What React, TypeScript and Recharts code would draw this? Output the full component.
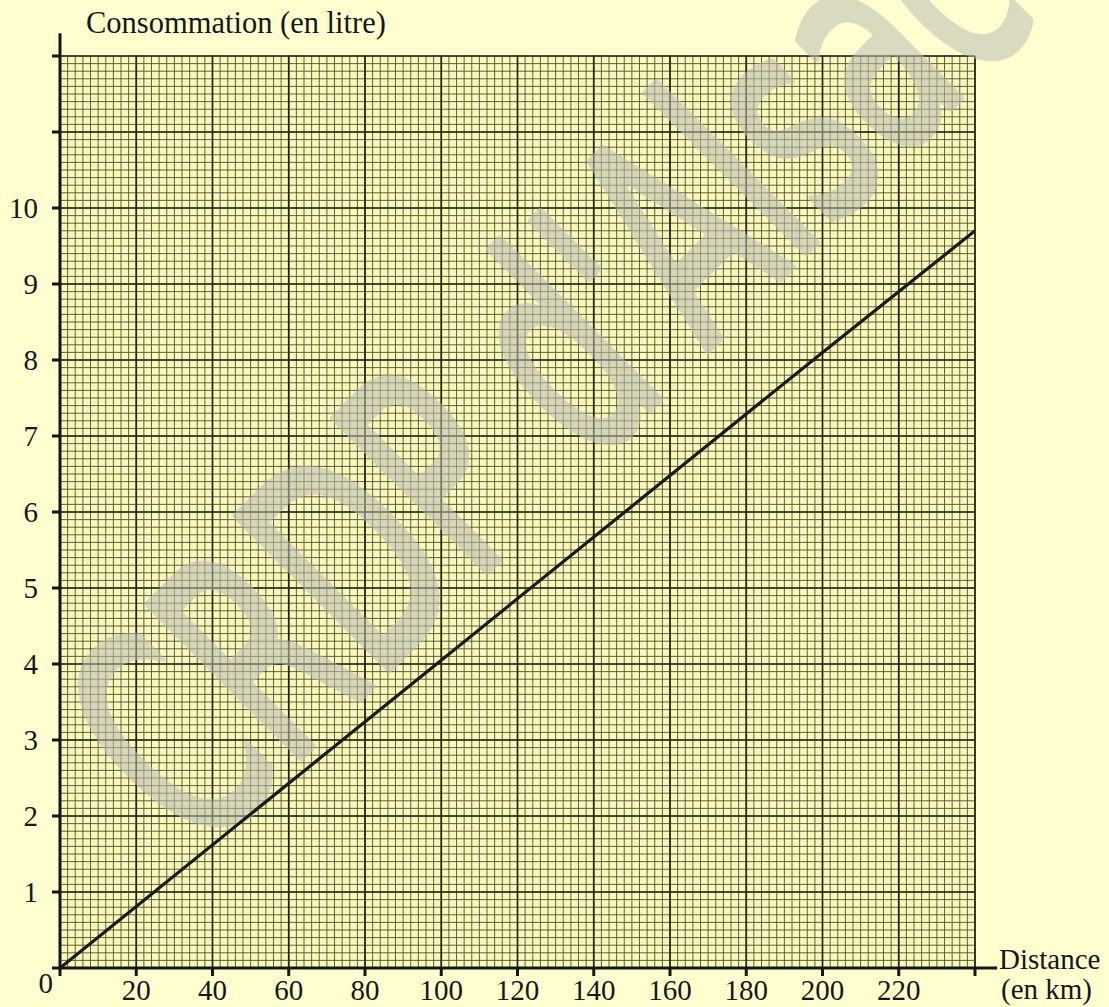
import React from 'react';
import { LineChart, Line, XAxis, YAxis, CartesianGrid, ReferenceLine } from 'recharts';

// distance (km) -> consumption (litres)
const distances = [0, 100, 200, 240];
const consumption = [0, 4.05, 8.1, 9.7];

const xTicks = [0, 20, 40, 60, 80, 100, 120, 140, 160, 180, 200, 220, 240];
const yTicks = [0, 1, 2, 3, 4, 5, 6, 7, 8, 9, 10, 11, 12];
const xLabelled = [20, 40, 60, 80, 100, 120, 140, 160, 180, 200, 220];
const yLabelled = [0, 1, 2, 3, 4, 5, 6, 7, 8, 9, 10];

// millimetre paper: 10 small squares per big square
const minorX = Array.from({ length: 121 }, (_, i) => i * 2);
const minorY = Array.from({ length: 121 }, (_, i) => i / 10);

const data = distances.map((d, i) => ({ distance: d, litres: consumption[i] }));

const FONT = '"Liberation Serif", "Times New Roman", serif';
const INK = '#161616';
const W = 1109;
const H = 1007;
const MARGIN = { top: 56, right: 134, bottom: 0, left: 0 };

function XTick(props: any) {
  const { x, y, payload } = props;
  if (!xLabelled.includes(payload.value)) return <g />;
  return (
    <text x={x} y={y + 22} textAnchor="middle" fontFamily={FONT} fontSize={29} fill={INK}>
      {payload.value}
    </text>
  );
}

function YTick(props: any) {
  const { x, y, payload } = props;
  if (!yLabelled.includes(payload.value)) return <g />;
  if (payload.value === 0) {
    return (
      <text x={x + 3} y={y + 25} textAnchor="end" fontFamily={FONT} fontSize={29} fill={INK}>
        0
      </text>
    );
  }
  return (
    <text x={x - 12} y={y + 10} textAnchor="end" fontFamily={FONT} fontSize={29} fill={INK}>
      {payload.value}
    </text>
  );
}

const overlay: React.CSSProperties = { position: 'absolute', top: 0, left: 0, pointerEvents: 'none' };

export default function App() {
  return (
    <div style={{ position: 'absolute', top: 0, left: 0, width: W, height: H, background: '#ffffd0' }}>
      {/* graph paper + axes */}
      <LineChart width={W} height={H} data={data} margin={MARGIN}>
        <CartesianGrid
          fill="#f8f8b8"
          stroke="#50503a"
          strokeWidth={0.9}
          verticalValues={minorX}
          horizontalValues={minorY}
        />
        <CartesianGrid
          fill="none"
          stroke="#24241a"
          strokeWidth={1.7}
          verticalValues={xTicks}
          horizontalValues={yTicks}
        />
        <XAxis
          dataKey="distance"
          type="number"
          domain={[0, 240]}
          ticks={xTicks}
          interval={0}
          allowDataOverflow
          height={39}
          tickSize={8}
          axisLine={false}
          tickLine={{ stroke: INK, strokeWidth: 3 }}
          tick={XTick}
        />
        <YAxis
          type="number"
          domain={[0, 12]}
          ticks={yTicks}
          interval={0}
          allowDataOverflow
          width={60}
          tickSize={8}
          axisLine={false}
          tickLine={{ stroke: INK, strokeWidth: 3 }}
          tick={YTick}
        />
        <ReferenceLine
          segment={[{ x: 0, y: 0 }, { x: 245.8, y: 0 }]}
          stroke={INK}
          strokeWidth={3}
          ifOverflow="visible"
        />
        <ReferenceLine
          segment={[{ x: 0, y: 0 }, { x: 0, y: 12.3 }]}
          stroke={INK}
          strokeWidth={3}
          ifOverflow="visible"
        />
      </LineChart>

      {/* labels + watermark */}
      <svg width={W} height={H} style={overlay}>
        <text x={86} y={33} fontFamily={FONT} fontSize={30.5} fill={INK}>
          Consommation (en litre)
        </text>
        <text x={999} y={969} fontFamily={FONT} fontSize={29} fill={INK}>
          Distance
        </text>
        <text x={1001} y={999} fontFamily={FONT} fontSize={29} fill={INK}>
          (en km)
        </text>
        <g opacity={0.55}>
          <text
            transform="translate(199 859) rotate(-45) scale(0.607 1)"
            fontFamily='"DejaVu Sans", sans-serif'
            fontSize={296}
            fill="#bdbdb5"
            stroke="#bdbdb5"
            strokeWidth={8}
            strokeLinejoin="round"
          >
            CRDP d'Alsace
          </text>
        </g>
      </svg>

      {/* the consumption line, on top of the watermark */}
      <div style={overlay}>
        <LineChart width={W} height={H} data={data} margin={MARGIN}>
          <XAxis
            dataKey="distance"
            type="number"
            domain={[0, 240]}
            allowDataOverflow
            height={39}
            axisLine={false}
            tickLine={false}
            tick={false}
          />
          <YAxis
            type="number"
            domain={[0, 12]}
            allowDataOverflow
            width={60}
            axisLine={false}
            tickLine={false}
            tick={false}
          />
          <Line
            type="linear"
            dataKey="litres"
            stroke="#1a1a1a"
            strokeWidth={3.2}
            dot={false}
            activeDot={false}
            isAnimationActive={false}
          />
        </LineChart>
      </div>
    </div>
  );
}
